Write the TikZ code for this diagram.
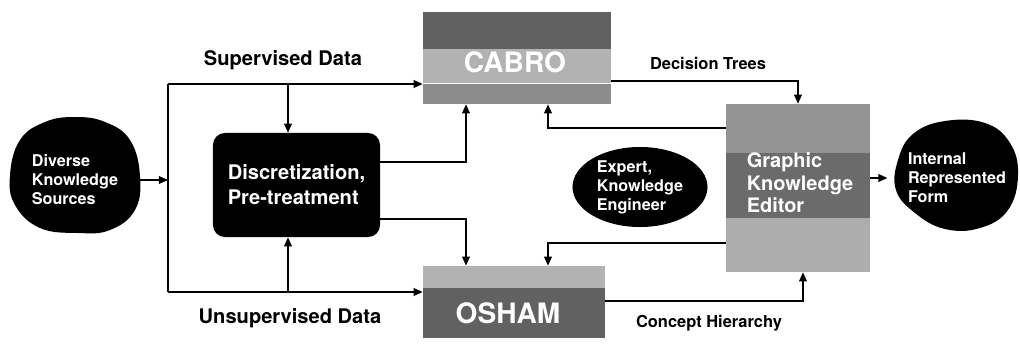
\documentclass[tikz,border=0pt]{standalone}
\usepackage{fontspec}
\setmainfont{TeX Gyre Heros}
\usetikzlibrary{arrows.meta,shapes.geometric}

\begin{document}
\begin{tikzpicture}[
    x=0.025cm, y=-0.025cm,
    >={Triangle[length=6.5pt,width=5.5pt]},
    flow/.style={line width=1.1pt},
    blob/.style={ellipse, inner sep=0pt, text=white, align=left,
                 font=\fontsize{11.5}{13.5}\selectfont\bfseries},
    panel/.style={rectangle, inner sep=0pt},
    paneltext/.style={text=white, align=left,
                      font=\fontsize{14.2}{16}\selectfont\bfseries},
    title/.style={text=white, font=\fontsize{20}{24}\selectfont\bfseries},
    datalabel/.style={font=\fontsize{14.3}{17}\selectfont\bfseries},
    outlabel/.style={font=\fontsize{11.7}{14}\selectfont\bfseries}
]
\useasboundingbox (0,0) rectangle (1020,349);

% Sources
\fill plot[smooth cycle, tension=0.7] coordinates {
  (75,117) (105,122) (130,140) (140,176) (135,210) (110,230)
  (78,233) (40,228) (15,205) (10,175) (20,140) (45,122)};
\node[blob, minimum width=3.25cm, minimum height=2.85cm] (sources) at (75,180)
  {Diverse\\Knowledge\\Sources};

% Pre-treatment
\node[rectangle, rounded corners=0.3cm, fill=black, text=white, align=left,
      minimum width=4.175cm, minimum height=2.6cm,
      font=\fontsize{14.3}{17.8}\selectfont\bfseries] (prep) at (296.5,185)
  {Discretization,\\Pre-treatment};

% CABRO
\fill[black!62] (423,12) rectangle (611,49);
\fill[black!30] (423,49) rectangle (611,83);
\fill[black!45] (423,84) rectangle (611,104);
\node[panel, minimum width=4.7cm, minimum height=2.3cm] (cabro) at (517,58) {};
\node[title] (cabrotitle) at (515,62) {CABRO};

% OSHAM
\fill[black!30] (423,266) rectangle (605,288);
\fill[black!62] (423,288) rectangle (605,338);
\node[panel, minimum width=4.55cm, minimum height=1.8cm] (osham) at (514,302) {};
\node[title] (oshamtitle) at (508,313) {OSHAM};

% Editor
\fill[black!42] (726,104) rectangle (870,153);
\fill[black!58] (726,153) rectangle (870,218);
\fill[black!32] (726,218) rectangle (870,272);
\node[panel, minimum width=3.6cm, minimum height=4.2cm] (editor) at (798,188) {};
\node[paneltext] (editortext) at (800,183) {Graphic\\Knowledge\\Editor};

% Expert
\node[blob, fill=black, minimum width=3.375cm, minimum height=2cm] (expert)
  at (640,187) {Expert,\\Knowledge\\Engineer};

% Internal form
\fill plot[smooth cycle, tension=0.7] coordinates {
  (898,160) (913,134) (945,121) (985,123) (1010,143) (1018,175)
  (1008,210) (980,228) (945,229) (915,213) (896,190)};
\node[blob, minimum width=3.075cm, minimum height=2.7cm] (internal) at (957,178)
  {Internal\\Represented\\Form};

% Data paths
\coordinate (forktop) at (168,84);
\coordinate (forkbot) at (168,292);
\coordinate (supin) at (288,84);
\coordinate (unsin) at (288,292);
\draw[flow] (forktop) -- (forkbot);
\draw[flow,->] (sources.east) -- (sources.east -| forktop);
\draw[flow,->] (forktop) -- (cabro.west |- forktop);
\draw[flow,->] (forkbot) -- (osham.west |- forkbot);
\draw[flow,->] (supin) -- (supin |- prep.north);
\draw[flow,->] (unsin) -- (unsin |- prep.south);
\draw[flow,->] (prep.east |- 0,162) -| (cabro.south -| 466,0);
\draw[flow,->] (prep.east |- 0,219) -| (osham.north -| 466,0);

% Feedback from the editor
\draw[flow,->] (editor.west |- 0,128) -| (cabro.south -| 548,0);
\draw[flow,->] (editor.west |- 0,243) -| (osham.north -| 548,0);

% Results to the editor
\draw[flow,->] (cabro.east |- 0,81) -| (editor.north);
\draw[flow,->] (osham.east |- 0,301) -| (editor.south -| 803,0);
\draw[flow,->] (editor.east |- internal.west) -- (internal.west);

% Labels
\node[datalabel] (suplabel) at (283,60) {Supervised Data};
\node[datalabel] (unslabel) at (290,318) {Unsupervised Data};
\node[outlabel] (treelabel) at (708,63) {Decision Trees};
\node[outlabel] (hierlabel) at (709,323) {Concept Hierarchy};

\end{tikzpicture}
\end{document}
